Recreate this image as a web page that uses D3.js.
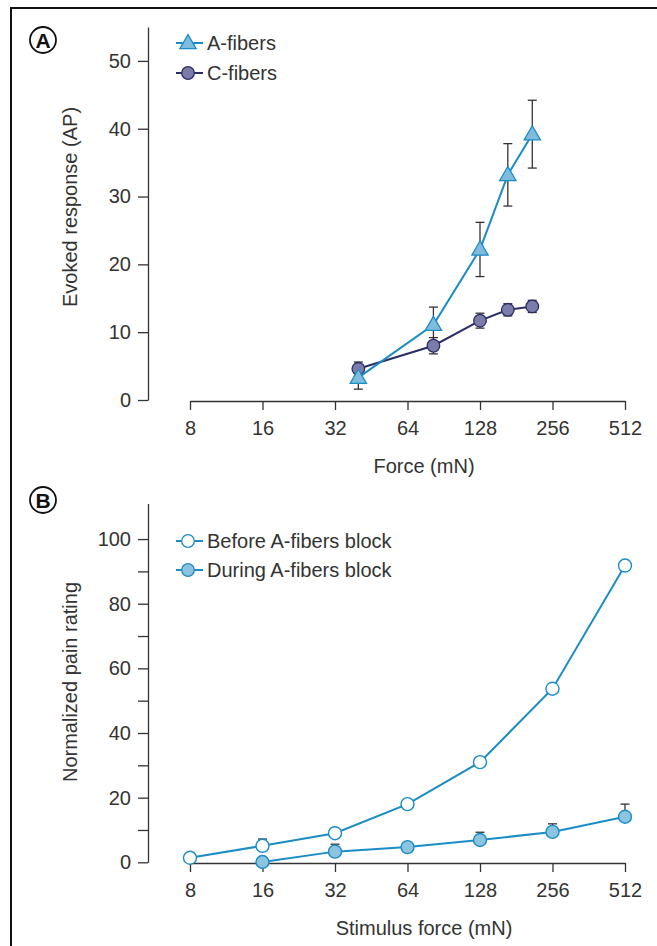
<!DOCTYPE html>
<html>
<head>
<meta charset="utf-8">
<script src="https://cdn.jsdelivr.net/npm/d3@7"></script>
<style>
  body { margin: 0; background: #fff; }
  svg text { font-family: "Liberation Sans", Arial, sans-serif; fill: #333; }
</style>
</head>
<body>
<svg id="chart" width="657" height="946"></svg>
<script>
// panel A data
var forceA = [40, 82, 128, 167, 211];
var aFibers = [3.3, 11.1, 22.2, 33.2, 39.2];
var aFibersErr = [1.7, 2.6, 4.0, 4.6, 5.0];
var cFibers = [4.6, 8.0, 11.7, 13.3, 13.8];
var cFibersErr = [1.0, 1.2, 1.1, 0.9, 0.9];

// panel B data
var forceB = [8, 16, 32, 64, 128, 256, 512];
var before = [1.4, 5.1, 9.0, 18.0, 31.0, 53.7, 91.8];
var beforeErr = [0, 2.1, 0, 0, 0, 0, 0];
var during = [null, 0.1, 3.3, 4.7, 6.9, 9.4, 14.1];
var duringErr = [0, 0, 2.3, 1.0, 2.4, 2.5, 3.9];

var xTicks = [8, 16, 32, 64, 128, 256, 512];
var yTicksA = [0, 10, 20, 30, 40, 50];
var yTicksB = [0, 10, 20, 30, 40, 50, 60, 70, 80, 90, 100];

var svg = d3.select('#chart');
var blue = '#1a8cc6';

// frame
svg.append('path')
  .attr('d', 'M11,946 L11,8 L657,8')
  .attr('fill', 'none')
  .attr('stroke', '#111')
  .attr('stroke-width', 2);

var x = d3.scaleLog().base(2).domain([8, 512]).range([190, 625]);

var yA = d3.scaleLinear().domain([0, 55]).range([400, 27]);
var yB = d3.scaleLinear().domain([0, 111]).range([862.3, 503.5]);

function styleAxis(g) {
  g.selectAll('path, line').attr('stroke', '#333').attr('stroke-width', 1.3);
  g.selectAll('text').attr('font-size', 20).attr('fill', '#333')
    .style('font-family', '"Liberation Sans", Arial, sans-serif');
}

function drawAxes(y, yTicks, yFmt, xAxisY, xTitle, yTitle, titleY, yLabelY) {
  var gy = svg.append('g').attr('transform', 'translate(148,0)')
    .call(d3.axisLeft(y).tickValues(yTicks).tickSize(10).tickPadding(7)
      .tickSizeOuter(0).tickFormat(yFmt));
  styleAxis(gy);

  var gx = svg.append('g').attr('transform', 'translate(0,' + xAxisY + ')')
    .call(d3.axisBottom(x).tickValues(xTicks).tickSize(9).tickPadding(11)
      .tickSizeOuter(0).tickFormat(d3.format('d')));
  styleAxis(gx);

  svg.append('text')
    .attr('x', 424).attr('y', titleY)
    .attr('text-anchor', 'middle').attr('font-size', 20)
    .text(xTitle);

  svg.append('text')
    .attr('transform', 'translate(77,' + yLabelY + ') rotate(-90)')
    .attr('text-anchor', 'middle').attr('font-size', 20)
    .text(yTitle);
}

drawAxes(yA, yTicksA, d3.format('d'), 401, 'Force (mN)', 'Evoked response (AP)', 473, 207);
drawAxes(yB, yTicksB, function(d) { return d % 20 === 0 ? d : ''; }, 863, 'Stimulus force (mN)', 'Normalized pain rating', 935, 682);

// panel labels
function panelLabel(letter, cx, cy) {
  svg.append('circle').attr('cx', cx).attr('cy', cy).attr('r', 13)
    .attr('fill', 'none').attr('stroke', '#111').attr('stroke-width', 1.8);
  svg.append('text').attr('x', cx).attr('y', cy + 7.5)
    .attr('text-anchor', 'middle').attr('font-size', 21).attr('font-weight', 'bold')
    .style('fill', '#111').text(letter);
}
panelLabel('A', 43, 40);
panelLabel('B', 43, 500);

var tri = d3.symbol().type(d3.symbolTriangle).size(115);

function errorBars(xs, ys, errs, y, both) {
  var g = svg.append('g').attr('stroke', '#333').attr('stroke-width', 1.3);
  xs.forEach(function(xv, i) {
    if (ys[i] == null || !errs[i]) return;
    var top = y(ys[i] + errs[i]);
    var bot = both ? y(ys[i] - errs[i]) : y(ys[i]);
    var cx = x(xv);
    g.append('line').attr('x1', cx).attr('x2', cx).attr('y1', top).attr('y2', bot);
    g.append('line').attr('x1', cx - 4.5).attr('x2', cx + 4.5).attr('y1', top).attr('y2', top);
    if (both) g.append('line').attr('x1', cx - 4.5).attr('x2', cx + 4.5).attr('y1', bot).attr('y2', bot);
  });
}

function seriesLine(xs, ys, y, color) {
  var pts = xs.map(function(xv, i) { return [xv, ys[i]]; })
    .filter(function(p) { return p[1] != null; });
  svg.append('path').datum(pts)
    .attr('d', d3.line().x(function(p) { return x(p[0]); }).y(function(p) { return y(p[1]); }))
    .attr('fill', 'none').attr('stroke', color).attr('stroke-width', 2);
  return pts;
}

// panel A: C-fibers under A-fibers
errorBars(forceA, cFibers, cFibersErr, yA, true);
errorBars(forceA, aFibers, aFibersErr, yA, true);
var cPts = seriesLine(forceA, cFibers, yA, '#2b2d66');
svg.selectAll('circle.cf').data(cPts).enter().append('circle')
  .attr('cx', function(p) { return x(p[0]); })
  .attr('cy', function(p) { return yA(p[1]); })
  .attr('r', 6.3).attr('fill', '#7c7caa').attr('stroke', '#2b2d66').attr('stroke-width', 1.3);

var aPts = seriesLine(forceA, aFibers, yA, blue);
svg.selectAll('path.af').data(aPts).enter().append('path')
  .attr('transform', function(p) { return 'translate(' + x(p[0]) + ',' + (yA(p[1]) + 1) + ')'; })
  .attr('d', tri).attr('fill', '#7fbcdc').attr('stroke', blue).attr('stroke-width', 1.3);

// panel B
errorBars(forceB, before, beforeErr, yB, false);
errorBars(forceB, during, duringErr, yB, false);
var dPts = seriesLine(forceB, during, yB, blue);
var bPts = seriesLine(forceB, before, yB, blue);
svg.selectAll('circle.dur').data(dPts).enter().append('circle')
  .attr('cx', function(p) { return x(p[0]); })
  .attr('cy', function(p) { return yB(p[1]); })
  .attr('r', 6.5).attr('fill', '#8cc3de').attr('stroke', blue).attr('stroke-width', 1.4);
svg.selectAll('circle.bef').data(bPts).enter().append('circle')
  .attr('cx', function(p) { return x(p[0]); })
  .attr('cy', function(p) { return yB(p[1]); })
  .attr('r', 6.5).attr('fill', '#fff').attr('stroke', blue).attr('stroke-width', 1.4);

// legends
function legendRow(ly, label, color, marker, fill) {
  svg.append('line').attr('x1', 176).attr('x2', 203).attr('y1', ly).attr('y2', ly)
    .attr('stroke', color).attr('stroke-width', 2);
  if (marker === 'tri') {
    svg.append('path').attr('transform', 'translate(188,' + (ly + 1) + ')')
      .attr('d', tri).attr('fill', fill).attr('stroke', color).attr('stroke-width', 1.3);
  } else {
    svg.append('circle').attr('cx', 188).attr('cy', ly).attr('r', 6.3)
      .attr('fill', fill).attr('stroke', color).attr('stroke-width', 1.3);
  }
  svg.append('text').attr('x', 207).attr('y', ly + 7).attr('font-size', 20).text(label);
}
legendRow(43, 'A-fibers', blue, 'tri', '#7fbcdc');
legendRow(73, 'C-fibers', '#2b2d66', 'circle', '#7c7caa');
legendRow(541, 'Before A-fibers block', blue, 'circle', '#fff');
legendRow(570, 'During A-fibers block', blue, 'circle', '#8cc3de');
</script>
</body>
</html>
